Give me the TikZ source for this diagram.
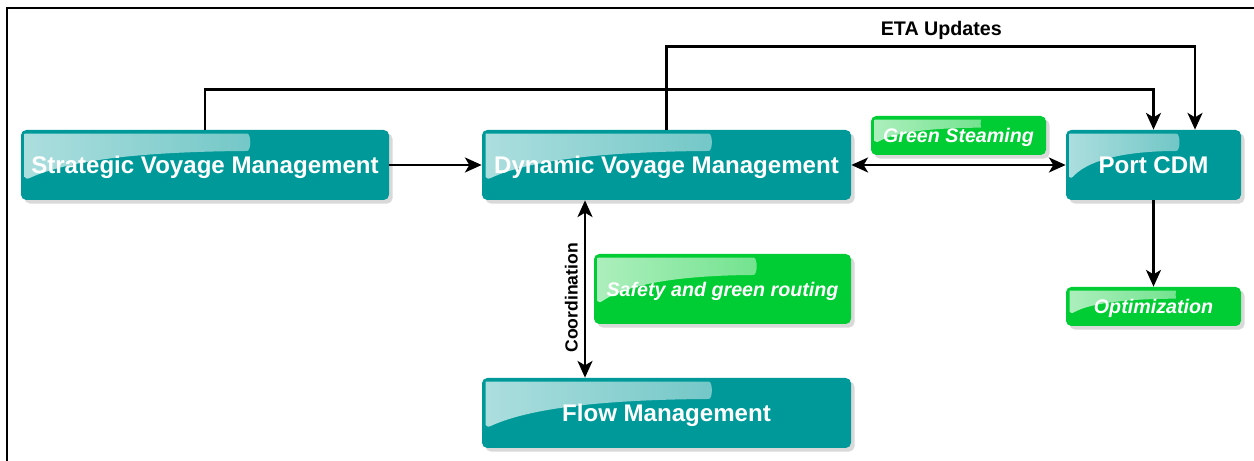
\documentclass[tikz,border=0pt]{standalone}
\usepackage{fontspec}
\setmainfont{Liberation Sans}
\usetikzlibrary{positioning}
\usetikzlibrary{arrows.meta,shadows,calc}

\definecolor{boxteal}{RGB}{0,153,153}
\definecolor{boxgreen}{RGB}{0,204,51}

\tikzset{
  % glossy highlight in the upper left corner of a box
  gloss/.style={path picture={
    \shade[left color=white!68!#1,right color=white!32!#1]
      let \p1=(path picture bounding box.north west),
          \p2=(path picture bounding box.south east),
          \n1={\x2-\x1}, \n2={\y1-\y2} in
      (\x1+2pt,\y1-0.72*\n2) -- (\x1+2pt,\y1-5pt) to[out=90,in=180] (\x1+5pt,\y1-2pt)
      -- (\x1+0.6*\n1,\y1-2pt) to[out=0,in=0,looseness=1.4] (\x1+0.6*\n1,\y1-0.3*\n2)
      .. controls (\x1+0.3*\n1,\y1-0.32*\n2) and (\x1+0.12*\n1,\y1-0.45*\n2) .. (\x1+2pt,\y1-0.72*\n2)
      -- cycle;
  }},
  mainbox/.style={rectangle, rounded corners=3pt, fill=boxteal, text=white, gloss=boxteal,
    font=\fontsize{13.7}{16}\selectfont\bfseries, minimum height=1.4cm, text depth=0pt,
    drop shadow={opacity=0.3,shadow xshift=2pt,shadow yshift=-2pt}},
  greenbox/.style={mainbox, fill=boxgreen, gloss=boxgreen,
    font=\fontsize{11.2}{13}\selectfont\bfseries\itshape, minimum height=0.78cm},
  conn/.style={line width=1.5pt},
  >={Stealth[length=9.5pt,width=8.5pt,inset=2.5pt]}
}

\begin{document}
\begin{tikzpicture}
 \useasboundingbox (0,0) rectangle (25.08,-9.22);
 \draw[line width=1.4pt] (0.14,-9.22) -- (0.14,-0.16) -- (25.08,-0.16);

 \node[mainbox, minimum width=7.36cm] (strat) at (4.10,-3.30) {Strategic Voyage Management};
 \node[mainbox, minimum width=7.38cm] (dyn) at (13.33,-3.30) {Dynamic Voyage Management};
 \node[mainbox, minimum width=3.5cm] (port) at (23.07,-3.30) {Port CDM};
 \node[mainbox, minimum width=7.38cm] (flow) at (13.33,-8.26) {Flow Management};
 \node[greenbox, minimum width=3.5cm] (steam) at (19.17,-2.71) {Green Steaming};
 \node[greenbox, minimum width=5.14cm, minimum height=1.4cm] (safety) at (14.45,-5.78) {Safety and green routing};
 \node[greenbox, minimum width=3.5cm] (optim) at (23.07,-6.13) {Optimization};

 \draw[conn,->] (strat) -- (dyn);
 \draw[conn,<->] (dyn) -- (port);
 \draw[conn,->] (port) -- (optim);
 \draw[conn,->] (strat.north) -- ++(0,0.8) -| (port.north);
 \draw[conn,->] (dyn.north) -- ++(0,1.66) -| ([xshift=0.83cm]port.north)
   node[pos=0.26,above,font=\fontsize{11.2}{13}\selectfont\bfseries] (eta) {ETA Updates};
 \draw[conn,<->] ([xshift=-1.63cm]flow.north) -- ([xshift=-1.63cm]dyn.south)
   node[pos=0.45,above,sloped,font=\fontsize{10}{12}\selectfont\bfseries] (coord) {Coordination};
\end{tikzpicture}
\end{document}
